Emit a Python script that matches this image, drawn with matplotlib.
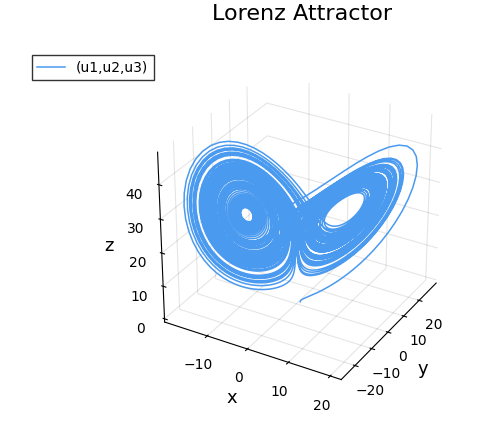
import numpy as np
import matplotlib.pyplot as plt

# Lorenz system parameters and initial state
sigma = 10.0
rho = 28.0
beta = 8.0 / 3.0
u0 = [1.0, 0.0, 0.0]
t_end = 100.0
dt = 0.01

x_ticks = [-10, 0, 10, 20]
y_ticks = [-20, -10, 0, 10, 20]
z_ticks = [0, 10, 20, 30, 40]


def lorenz(u):
    x, y, z = u
    return np.array([sigma * (y - x), x * (rho - z) - y, x * y - beta * z])


def integrate(u, n, h):
    out = np.empty((n + 1, 3))
    out[0] = u
    for i in range(n):
        k1 = lorenz(u)
        k2 = lorenz(u + h / 2 * k1)
        k3 = lorenz(u + h / 2 * k2)
        k4 = lorenz(u + h * k3)
        u = u + h / 6 * (k1 + 2 * k2 + 2 * k3 + k4)
        out[i + 1] = u
    return out


sol = integrate(np.array(u0), int(t_end / dt), dt)

fig = plt.figure(figsize=(4.96, 4.21), dpi=100)
ax = fig.add_axes([0.2, 0.03, 0.8, 0.87], projection='3d')
ax.plot(sol[:, 0], sol[:, 1], sol[:, 2], color='#4a9af0', lw=1.1, label='(u1,u2,u3)')
ax.view_init(elev=30, azim=-60)
ax.set_box_aspect((1.05, 1.05, 1.0), zoom=0.92)
ax.zaxis._axinfo['juggled'] = (1, 2, 0)
ax.set_xticks(x_ticks)
ax.set_yticks(y_ticks)
ax.set_zticks(z_ticks)
ax.set_xlabel('x', fontsize=13)
ax.set_ylabel('y', fontsize=13)
ax.set_zlabel('z', fontsize=13)
for a in (ax.xaxis, ax.yaxis, ax.zaxis):
    a.pane.fill = False
    a.pane.set_edgecolor('none')
    a._axinfo['grid']['color'] = (0, 0, 0, 0.1)
ax.tick_params(labelsize=10)
fig.suptitle('Lorenz Attractor', fontsize=16, x=0.61, y=0.99)
fig.legend(loc='upper left', bbox_to_anchor=(0.05, 0.885), fancybox=False,
           edgecolor='black', fontsize=10)
fig.savefig('out.png')
